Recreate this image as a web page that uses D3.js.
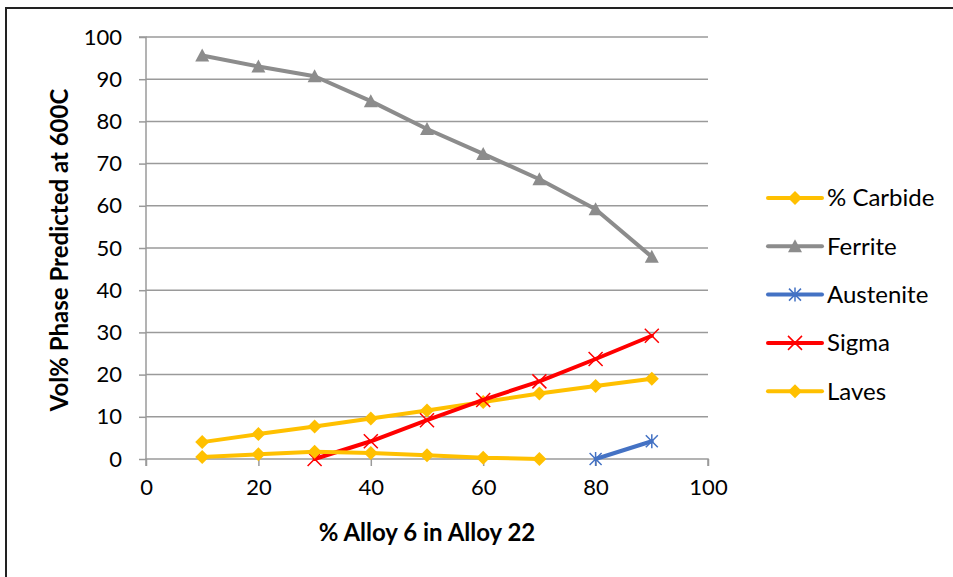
<!DOCTYPE html>
<html><head><meta charset="utf-8">
<script src="https://cdn.jsdelivr.net/npm/d3@7"></script>
<style>body{margin:0;background:#fff}svg{display:block}</style>
</head><body>
<script>
const alloyPct = [10,20,30,40,50,60,70,80,90];
const carbide = [4.0,5.9,7.7,9.6,11.5,13.5,15.5,17.3,19.0];
const ferrite = [95.6,93.0,90.7,84.8,78.2,72.3,66.3,59.2,47.9];
const austenite = [null,null,null,null,null,null,null,0,4.2];
const sigma = [null,null,0,4.2,9.2,14.0,18.4,23.7,29.2];
const laves = [0.5,1.1,1.7,1.4,0.9,0.3,0.0,null,null];
const seriesNames = ["% Carbide","Ferrite","Austenite","Sigma","Laves"];
const xTicks = [0,20,40,60,80,100];
const yTicks = [0,10,20,30,40,50,60,70,80,90,100];

const W=953,H=577;
const svg=d3.select("body").append("svg").attr("width",W).attr("height",H);
svg.append("rect").attr("width",W).attr("height",H).attr("fill","#fff");
svg.append("path").attr("d",`M6,${H+2}V8H${W+2}`).attr("fill","none").attr("stroke","#222").attr("stroke-width",2);

const x=d3.scaleLinear().domain([0,100]).range([146,708]);
const y=d3.scaleLinear().domain([0,100]).range([459,37]);
const font="Lato, 'Open Sans', sans-serif";

// gridlines
svg.append("g").selectAll("line").data(yTicks.filter(d=>d>0)).join("line")
 .attr("x1",x(0)).attr("x2",x(100)).attr("y1",d=>y(d)).attr("y2",d=>y(d))
 .attr("stroke","#9a9a9a").attr("stroke-width",1.5);

const yAxis=svg.append("g").attr("transform",`translate(${x(0)},0)`)
 .call(d3.axisLeft(y).tickValues(yTicks).tickSize(7).tickPadding(17));
const xAxis=svg.append("g").attr("transform",`translate(0,${y(0)})`)
 .call(d3.axisBottom(x).tickValues(xTicks).tickSize(7).tickPadding(13));
[yAxis,xAxis].forEach(a=>{
 a.select(".domain").attr("stroke","#9a9a9a").attr("stroke-width",1.5);
 a.selectAll(".tick line").attr("stroke","#9a9a9a").attr("stroke-width",1.5);
 a.selectAll("text").attr("font-family",font).attr("font-size",22).attr("fill","#000");
});
xAxis.select(".domain").attr("d",`M${x(0)},7V0H${x(100)}V7`);
yAxis.select(".domain").attr("d",`M-7,${y(100)}H0V${y(0)}`);

const colors={"% Carbide":"#FFC000","Ferrite":"#8c8c8c","Austenite":"#4472C4","Sigma":"#FF0000","Laves":"#FFC000"};
const markers={"% Carbide":"diamond","Ferrite":"triangle","Austenite":"star","Sigma":"x","Laves":"diamond"};
const dataMap={"% Carbide":carbide,"Ferrite":ferrite,"Austenite":austenite,"Sigma":sigma,"Laves":laves};

function drawMarker(g,type,cx,cy,col){
 if(type==="diamond"){
  g.append("path").attr("d",`M${cx},${cy-7}L${cx+7},${cy}L${cx},${cy+7}L${cx-7},${cy}Z`).attr("fill",col);
 } else if(type==="triangle"){
  g.append("path").attr("d",`M${cx},${cy-7}L${cx+7},${cy+6}L${cx-7},${cy+6}Z`).attr("fill",col);
 } else if(type==="x"){
  g.append("path").attr("d",`M${cx-7},${cy-7}L${cx+7},${cy+7}M${cx+7},${cy-7}L${cx-7},${cy+7}`).attr("stroke",col).attr("stroke-width",1.5);
 } else if(type==="star"){
  g.append("path").attr("d",`M${cx-6},${cy-6}L${cx+6},${cy+6}M${cx+6},${cy-6}L${cx-6},${cy+6}M${cx},${cy-7}V${cy+7}`).attr("stroke",col).attr("stroke-width",1.5);
 }
}

const line=d3.line().defined(d=>d[1]!=null).x(d=>x(d[0])).y(d=>y(d[1]));
seriesNames.forEach(name=>{
 const vals=dataMap[name];
 const pts=alloyPct.map((a,i)=>[a,vals[i]]);
 const g=svg.append("g");
 g.append("path").datum(pts).attr("d",line).attr("fill","none")
  .attr("stroke",colors[name]).attr("stroke-width",4).attr("stroke-linejoin","round").attr("stroke-linecap","round");
 pts.filter(d=>d[1]!=null).forEach(d=>drawMarker(g,markers[name],x(d[0]),y(d[1]),colors[name]));
});

// legend
const lg=svg.append("g");
seriesNames.forEach((name,i)=>{
 const ly=198+i*48.3;
 lg.append("line").attr("x1",768).attr("x2",822).attr("y1",ly).attr("y2",ly)
  .attr("stroke",colors[name]).attr("stroke-width",4).attr("stroke-linecap","round");
 drawMarker(lg,markers[name],795,ly,colors[name]);
 lg.append("text").attr("x",827).attr("y",ly).attr("dy","0.35em").attr("font-family",font)
  .attr("font-size",24).text(name);
});

svg.append("text").attr("x",427).attr("y",533).attr("dy","0.35em").attr("text-anchor","middle")
 .attr("font-family",font).attr("font-weight","bold").attr("font-size",24).text("% Alloy 6 in Alloy 22");
svg.append("text").attr("transform","translate(60,250) rotate(-90)").attr("dy","0.35em").attr("text-anchor","middle")
 .attr("font-family",font).attr("font-weight","bold").attr("font-size",24).text("Vol% Phase Predicted at 600C");
</script>
</body></html>
